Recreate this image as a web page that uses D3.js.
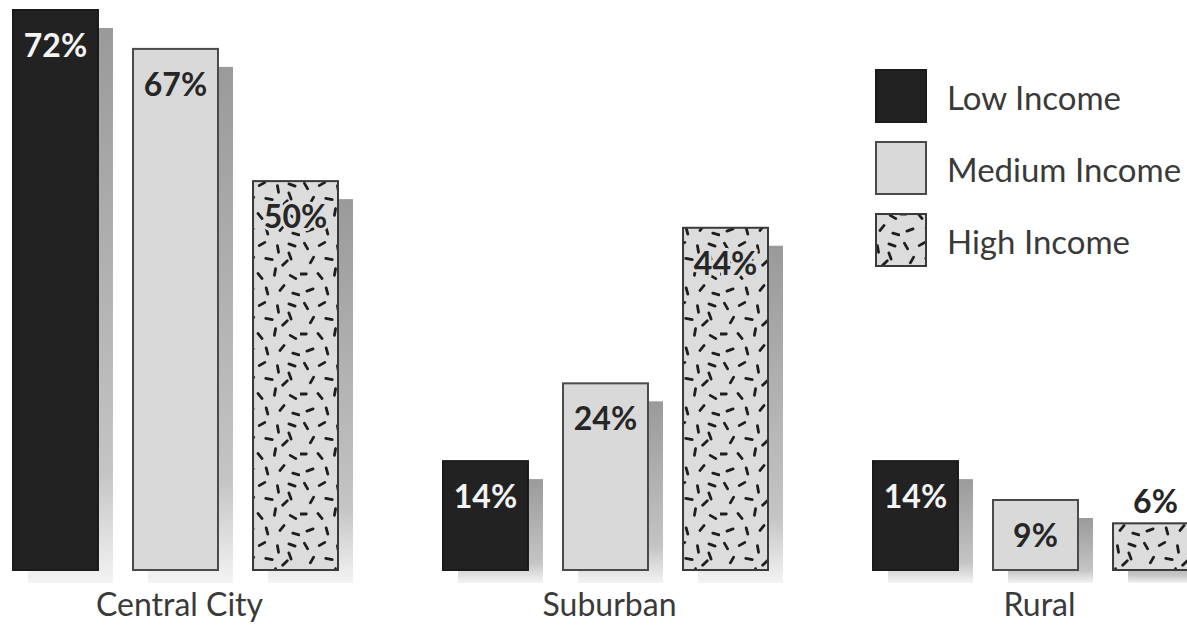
<!DOCTYPE html>
<html><head><meta charset="utf-8">
<script src="https://cdn.jsdelivr.net/npm/d3@7"></script>
<style>body{margin:0;background:#fff}svg{display:block}</style>
</head><body>
<svg id="c" width="1187" height="625"></svg>
<script>
const categories = ["Central City", "Suburban", "Rural"];
const series = ["Low Income", "Medium Income", "High Income"];
const lowIncome = [72, 14, 14];
const mediumIncome = [67, 24, 9];
const highIncome = [50, 44, 6];
const valueLabels = [["72%","67%","50%"],["14%","24%","44%"],["14%","9%","6%"]];

const seriesValues = [lowIncome, mediumIncome, highIncome];
const svg = d3.select("#c");
const defs = svg.append("defs");

// speckle pattern
const dashes = [[6,6,60],[22,4,-30],[38,9,80],[52,5,20],[12,20,-60],[29,19,10],[45,23,-45],
  [3,34,0],[20,36,50],[35,32,-80],[53,37,30],[10,50,-20],[27,51,75],[42,48,-50],[56,54,15],[50,16,70]];
const pat = defs.append("pattern").attr("id","speck").attr("patternUnits","userSpaceOnUse")
  .attr("width",60).attr("height",60);
pat.append("rect").attr("width",60).attr("height",60).attr("fill","#dcdcdc");
dashes.forEach(([cx,cy,a])=>{
  pat.append("line").attr("x1",-3.3).attr("x2",3.3).attr("y1",0).attr("y2",0)
    .attr("transform",`translate(${cx},${cy}) rotate(${a})`)
    .attr("stroke","#1e1e1e").attr("stroke-width",2.8).attr("stroke-linecap","round");
});
const grad = defs.append("linearGradient").attr("id","shadow").attr("x1",0).attr("x2",0).attr("y1",0).attr("y2",1);
grad.append("stop").attr("offset","0").attr("stop-color","#9a9a9a");
grad.append("stop").attr("offset","0.8").attr("stop-color","#c4c4c4");
grad.append("stop").attr("offset","1").attr("stop-color","#f3f3f3");

const fills = ["#222222","#d9d9d9","url(#speck)"];
const strokes = ["#1a1a1a","#4a4a4a","#3a3a3a"];

const x0 = d3.scaleBand().domain(categories).range([13, 13 + 430*3]).paddingInner(0).paddingOuter(0);
const x1 = d3.scaleBand().domain(series).range([0, 325]).paddingInner(0.292).paddingOuter(0);
const y = d3.scaleLinear().domain([0, 72]).range([570, 10]);
const bw = x1.bandwidth();

const data = [];
categories.forEach((c,ci)=>series.forEach((s,si)=>data.push({c,s,si,v:seriesValues[si][ci],label:valueLabels[ci][si]})));

const g = svg.append("g");
// shadows
g.selectAll("rect.sh").data(data).join("rect").attr("class","sh")
  .attr("x",d=>x0(d.c)+x1(d.s)+15).attr("y",d=>y(d.v)+18)
  .attr("width",bw).attr("height",d=>y(0)-y(d.v)-5)
  .attr("fill","url(#shadow)");
// bars
g.selectAll("rect.bar").data(data).join("rect").attr("class","bar")
  .attr("x",d=>x0(d.c)+x1(d.s)).attr("y",d=>y(d.v))
  .attr("width",bw).attr("height",d=>y(0)-y(d.v))
  .attr("fill",d=>fills[d.si]).attr("stroke",d=>strokes[d.si]).attr("stroke-width",2);
// value labels
const inside = d => (y(0)-y(d.v) > 60);
g.selectAll("text.val").data(data).join("text").attr("class","val")
  .attr("x",d=>x0(d.c)+x1(d.s)+bw/2)
  .attr("y",d=>inside(d) ? y(d.v)+47 : y(d.v)-10)
  .attr("text-anchor","middle")
  .attr("font-family","Lato, 'Open Sans', sans-serif").attr("font-weight","bold").attr("font-size",32)
  .attr("fill",d=>d.si===0 ? "#f4f4f4" : "#262626")
  .attr("stroke",d=>(d.si===2 && inside(d)) ? "#dcdcdc" : "none")
  .attr("stroke-width",6).attr("paint-order","stroke").attr("stroke-linejoin","round")
  .text(d=>d.label);
// category labels
g.selectAll("text.cat").data(categories).join("text").attr("class","cat")
  .attr("x",c=>x0(c)+x1(series[1])+bw/2+4).attr("y",616)
  .attr("text-anchor","middle")
  .attr("font-family","Lato, 'Open Sans', sans-serif").attr("font-size",32).attr("fill","#3a3a3a")
  .text(c=>c);

// legend
const ly = d3.scaleBand().domain(series).range([70, 266]).paddingInner(0.278).paddingOuter(0);
const lg = svg.append("g");
lg.selectAll("rect").data(series).join("rect")
  .attr("x",876).attr("y",s=>ly(s)).attr("width",50).attr("height",ly.bandwidth())
  .attr("fill",(s,i)=>fills[i]).attr("stroke",(s,i)=>strokes[i]).attr("stroke-width",2);
lg.selectAll("text").data(series).join("text")
  .attr("x",947).attr("y",s=>ly(s)+40)
  .attr("font-family","Lato, 'Open Sans', sans-serif").attr("font-size",33).attr("fill","#3a3a3a")
  .text(s=>s);
</script>
</body></html>
